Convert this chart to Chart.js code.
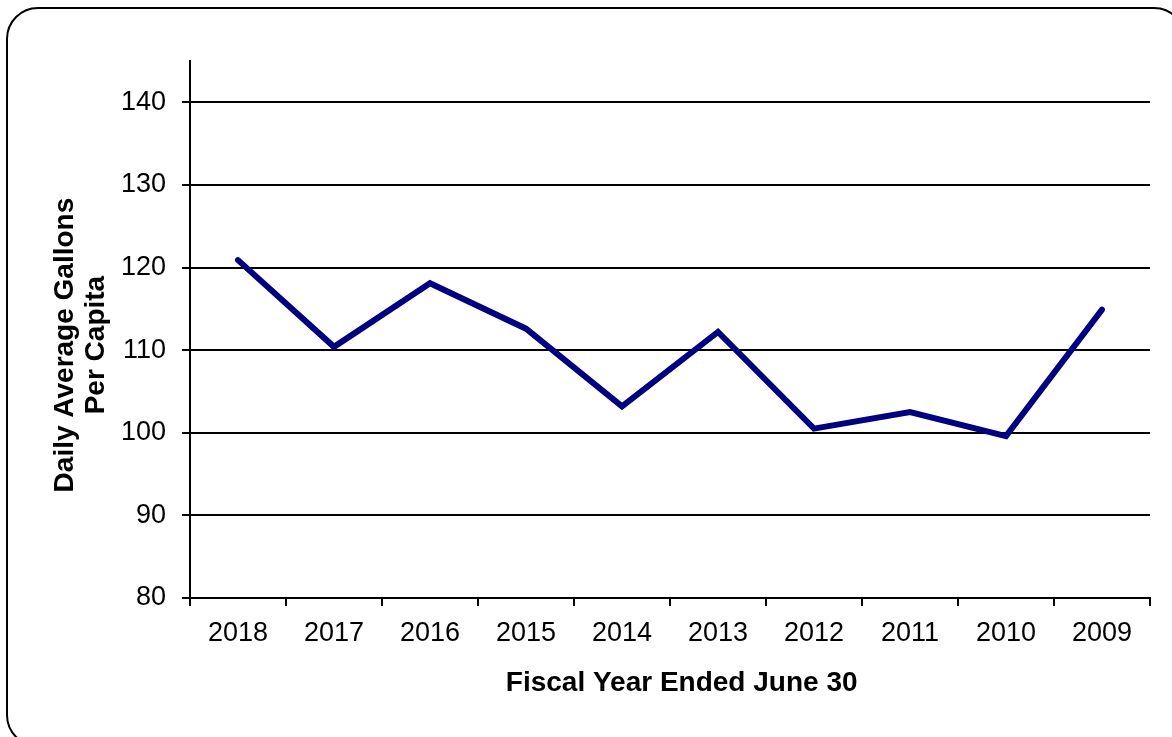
<!DOCTYPE html>
<html>
<head>
<meta charset="utf-8">
<script src="https://cdn.jsdelivr.net/npm/chart.js@4"></script>
<style>
    body { margin: 0; background: #fff; overflow: hidden; }
    #frame {
        position: absolute; left: 6px; top: 7px; width: 1180px; height: 740px;
        border: 2px solid #000; border-radius: 32px; box-sizing: border-box;
    }
    #report { position: absolute; left: 0; top: 0; }
</style>
</head>
<body>
<div id="frame"></div>
<canvas id="report" width="1172" height="737"></canvas>
<script>
const years = ['2018', '2017', '2016', '2015', '2014', '2013', '2012', '2011', '2010', '2009'];
const gallonsPerCapita = [120.9, 110.4, 118.1, 112.6, 103.2, 112.2, 100.5, 102.5, 99.6, 114.9];
const yTitle = ['Daily Average Gallons', 'Per Capita'];
const xTitle = 'Fiscal Year Ended June 30';

document.addEventListener("DOMContentLoaded", function() {

    // spaces only nudge the centred titles a little, like in the original
    const yTitleText = yTitle.map(t => t + '    ');
    const xTitleText = '   ' + xTitle;

    const ctx = document.getElementById('report').getContext('2d');
    let myChart = new Chart(ctx, {
        type: 'line',
        data: {
            labels: years,
            datasets: [{
                data: gallonsPerCapita,
                borderColor: '#000080',
                borderWidth: 6,
                borderCapStyle: 'round',
                pointRadius: 0,
                tension: 0
            }]
        },
        options: {
            responsive: false,
            animation: false,
            layout: { padding: { left: 0, right: 22, top: 61, bottom: 0 } },
            plugins: { legend: { display: false }, tooltip: { enabled: false } },
            scales: {
                x: {
                    offset: true,
                    afterFit: (scale) => { scale.height = 139; },
                    grid: { offset: true, drawOnChartArea: false, drawTicks: true, tickLength: 8, color: '#000', lineWidth: 2 },
                    border: { color: '#000', width: 2 },
                    ticks: { color: '#000', padding: 11, font: { family: 'Liberation Sans', size: 27 } },
                    title: {
                        display: true, text: xTitleText, color: '#000',
                        font: { family: 'Liberation Sans', size: 28, weight: 'bold', lineHeight: 1.2 },
                        padding: { top: 0, bottom: 37 }
                    }
                },
                y: {
                    min: 80,
                    max: 145,
                    afterFit: (scale) => { scale.width = 190; },
                    afterBuildTicks: (scale) => {
                        scale.ticks = scale.ticks.filter(t => t.value % 10 === 0);
                    },
                    grid: { drawTicks: true, tickLength: 8, color: '#000', lineWidth: 2 },
                    border: { color: '#000', width: 2 },
                    ticks: { stepSize: 10, color: '#000', padding: 16, font: { family: 'Liberation Sans', size: 27 } },
                    title: {
                        display: true, text: yTitleText, color: '#000',
                        font: { family: 'Liberation Sans', size: 28, weight: 'bold', lineHeight: 1.1 },
                        padding: { top: 50, bottom: 0 }
                    }
                }
            }
        }
    });
});
</script>
</body>
</html>
